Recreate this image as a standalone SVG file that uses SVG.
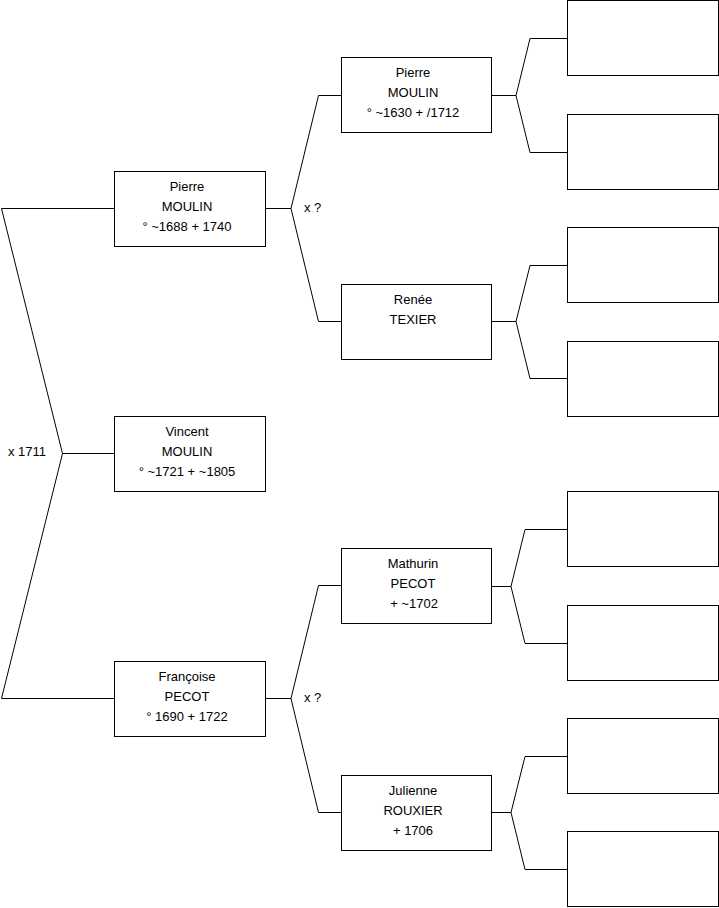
<svg xmlns="http://www.w3.org/2000/svg" width="719" height="908" viewBox="0 0 719 908">
<style>
.box{fill:#fff;stroke:#000;stroke-width:1}
.ln{fill:none;stroke:#000;stroke-width:1}
text{font-family:"Liberation Sans",Arial,sans-serif;font-size:13px;fill:#000}
.c{text-anchor:middle}
</style>
<rect width="719" height="908" fill="#fff"/>
<g id="connectors">
<path class="ln" d="M114,208.5 H1.5 L62.5,453.5 L1.5,698.5 H114 M62.5,453.5 H114"/>
<path class="ln" d="M265,208.5 H291 M341,95.5 H318.5 L291,208.5 L318.5,321.5 H341"/>
<path class="ln" d="M265,698.5 H291 M341,585.5 H318.5 L291,698.5 L318.5,812.5 H341"/>
<path class="ln" d="M491,95.5 H516 M567,38.5 H530 L516,95.5 L530,152.5 H567"/>
<path class="ln" d="M491,321.5 H516 M567,265.5 H530 L516,321.5 L530,378.5 H567"/>
<path class="ln" d="M491,586.5 H511 M567,529.5 H525 L511,586.5 L525,643.5 H567"/>
<path class="ln" d="M491,812.5 H511 M567,756.5 H525 L511,812.5 L525,869.5 H567"/>
</g>
<g id="labels">
<text x="8" y="456">x 1711</text>
<text x="304" y="212">x ?</text>
<text x="304" y="702">x ?</text>
</g>
<g id="n-pierre-1688">
<rect class="box" x="114.5" y="171.5" width="151" height="75"/>
<text class="c" x="187" y="191">Pierre</text>
<text class="c" x="187" y="211">MOULIN</text>
<text class="c" x="187" y="231">° ~1688 + 1740</text>
</g>
<g id="n-vincent">
<rect class="box" x="114.5" y="416.5" width="151" height="75"/>
<text class="c" x="187" y="436">Vincent</text>
<text class="c" x="187" y="456">MOULIN</text>
<text class="c" x="187" y="476">° ~1721 + ~1805</text>
</g>
<g id="n-francoise">
<rect class="box" x="114.5" y="661.5" width="151" height="75"/>
<text class="c" x="187" y="681">Françoise</text>
<text class="c" x="187" y="701">PECOT</text>
<text class="c" x="187" y="721">° 1690 + 1722</text>
</g>
<g id="n-pierre-1630">
<rect class="box" x="341.5" y="57.5" width="150" height="75"/>
<text class="c" x="413" y="77">Pierre</text>
<text class="c" x="413" y="97">MOULIN</text>
<text class="c" x="413" y="117">° ~1630 + /1712</text>
</g>
<g id="n-renee">
<rect class="box" x="341.5" y="284.5" width="150" height="75"/>
<text class="c" x="413" y="304">Renée</text>
<text class="c" x="413" y="324">TEXIER</text>
</g>
<g id="n-mathurin">
<rect class="box" x="341.5" y="548.5" width="150" height="75"/>
<text class="c" x="413" y="568">Mathurin</text>
<text class="c" x="413" y="588">PECOT</text>
<text class="c" x="414" y="608">+ ~1702</text>
</g>
<g id="n-julienne">
<rect class="box" x="341.5" y="775.5" width="150" height="75"/>
<text class="c" x="413" y="795">Julienne</text>
<text class="c" x="413" y="815">ROUXIER</text>
<text class="c" x="413" y="835">+ 1706</text>
</g>
<g id="n-e1"><rect class="box" x="567.5" y="0.5" width="151" height="75"/></g>
<g id="n-e2"><rect class="box" x="567.5" y="114.5" width="151" height="75"/></g>
<g id="n-e3"><rect class="box" x="567.5" y="227.5" width="151" height="75"/></g>
<g id="n-e4"><rect class="box" x="567.5" y="341.5" width="151" height="75"/></g>
<g id="n-e5"><rect class="box" x="567.5" y="491.5" width="151" height="75"/></g>
<g id="n-e6"><rect class="box" x="567.5" y="605.5" width="151" height="75"/></g>
<g id="n-e7"><rect class="box" x="567.5" y="718.5" width="151" height="75"/></g>
<g id="n-e8"><rect class="box" x="567.5" y="831.5" width="151" height="75"/></g>
</svg>
